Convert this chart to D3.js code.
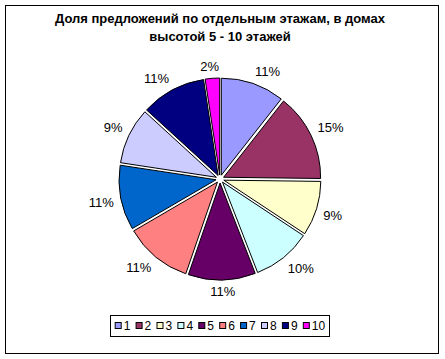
<!DOCTYPE html>
<html>
<head>
<meta charset="utf-8">
<script src="https://cdn.jsdelivr.net/npm/d3@7"></script>
<style>
  html, body { margin: 0; padding: 0; background: #fff; }
  svg { display: block; }
  text { font-family: "Liberation Sans", Arial, sans-serif; fill: #000; }
</style>
</head>
<body>
<svg id="chart" width="445" height="359"></svg>
<script>
// ---- data ----
const categories = ["1", "2", "3", "4", "5", "6", "7", "8", "9", "10"];
const values = [10.6, 14.6, 9.1, 9.8, 11.2, 11.3, 10.8, 9.4, 10.8, 2.4];
const colors = ["#9999FF", "#993366", "#FFFFCC", "#CCFFFF", "#660066",
                "#FF8080", "#0066CC", "#CCCCFF", "#000080", "#FF00FF"];
const titleLines = ["Доля предложений по отдельным этажам, в домах",
                    "высотой 5 - 10 этажей"];

// ---- layout ----
const cx = 220, cy = 179, R = 97, explode = 4, labelR = 108;

const svg = d3.select("#chart");

// outer border
svg.append("rect")
  .attr("x", 5.5).attr("y", 5.5)
  .attr("width", 433).attr("height", 348)
  .attr("fill", "#fff").attr("stroke", "#000").attr("stroke-width", 1);

// title
const title = svg.append("text")
  .attr("text-anchor", "middle")
  .attr("font-size", 13).attr("font-weight", "bold");
titleLines.forEach((t, i) => {
  title.append("tspan").attr("x", cx).attr("y", 23 + i * 18).text(t);
});

// pie
const total = d3.sum(values);
const pie = d3.pie().sort(null).value(d => d)(values);
const arc = d3.arc().innerRadius(0).outerRadius(R);
const color = d3.scaleOrdinal().domain(categories).range(colors);

const g = svg.append("g").attr("transform", `translate(${cx},${cy})`);

g.selectAll("path.slice")
  .data(pie)
  .join("path")
  .attr("class", "slice")
  .attr("d", arc)
  .attr("transform", d => {
    const a = (d.startAngle + d.endAngle) / 2;
    return `translate(${Math.sin(a) * explode},${-Math.cos(a) * explode})`;
  })
  .attr("fill", (d, i) => color(categories[i]))
  .attr("stroke", "#000")
  .attr("stroke-width", 1)
  .attr("stroke-linejoin", "miter");

// labels
const clamp = v => Math.max(-1, Math.min(1, v));
g.selectAll("text.lbl")
  .data(pie)
  .join("text")
  .attr("class", "lbl")
  .attr("font-size", 13)
  .attr("text-anchor", "middle")
  .attr("dominant-baseline", "central")
  .text(d => Math.round(d.value * 100 / total) + "%")
  .each(function (d) {
    const a = (d.startAngle + d.endAngle) / 2;
    const w = this.getComputedTextLength();
    const h = 10;
    const ax = Math.sin(a) * labelR, ay = -Math.cos(a) * labelR;
    const x = ax + (w / 2) * clamp(Math.sin(a) * 3);
    const y = ay + (h / 2) * clamp(-Math.cos(a) * 3);
    d3.select(this).attr("x", x).attr("y", y);
  });

// legend
const step = 20.9;
const lx0 = 110, ly0 = 315;
const legendX = d3.scalePoint().domain(categories)
  .range([lx0 + 4.7, lx0 + 4.7 + step * (categories.length - 1)]);

svg.append("rect")
  .attr("x", lx0 + 0.5).attr("y", ly0 + 0.5)
  .attr("width", 219).attr("height", 21)
  .attr("fill", "#fff").attr("stroke", "#000").attr("stroke-width", 1);

const items = svg.selectAll("g.leg")
  .data(categories)
  .join("g")
  .attr("class", "leg")
  .attr("transform", d => `translate(${legendX(d)},${ly0 + 7})`);

items.append("rect")
  .attr("x", 0.5).attr("y", 0.5)
  .attr("width", 6).attr("height", 6)
  .attr("fill", d => color(d))
  .attr("stroke", "#000").attr("stroke-width", 1);

items.append("text")
  .attr("x", 9).attr("y", 7.5)
  .attr("font-size", 12)
  .text(d => d);
</script>
</body>
</html>
